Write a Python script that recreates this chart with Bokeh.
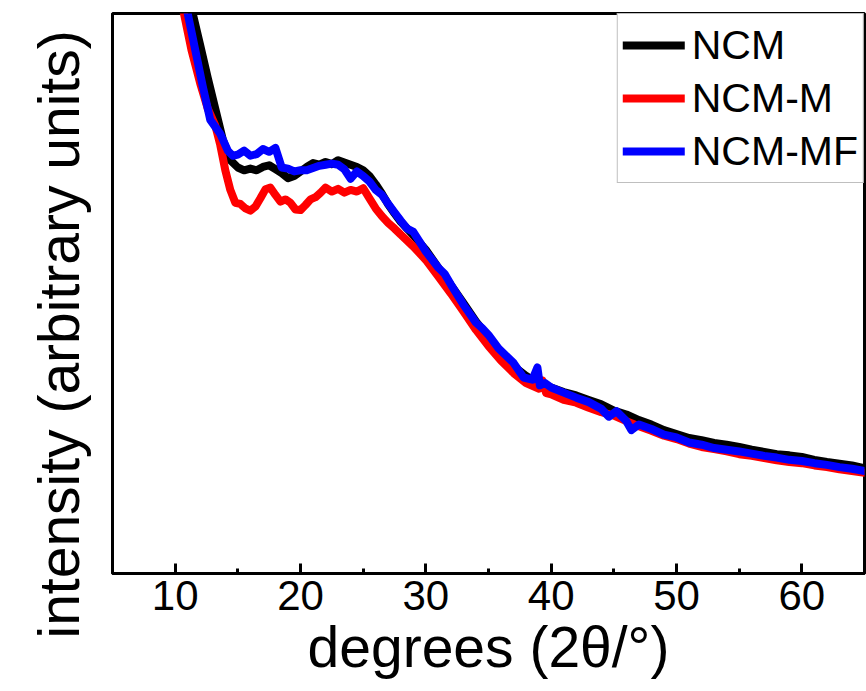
from bokeh.plotting import figure
from bokeh.models import Range1d, Legend, LegendItem, FixedTicker, Title
from bokeh.embed import file_html
from bokeh.resources import INLINE

# ---- data (arbitrary intensity units 0-100) ----
x_ncm = [10.8, 11.4, 12.0, 12.6, 13.2, 13.8, 14.4, 15.0, 15.5, 16.0, 16.5, 17.0, 17.5, 18.0,
         18.5, 19.0, 19.5, 20.0, 20.5, 21.0, 21.5, 22.0, 22.5, 23.0, 23.5, 24.0, 24.5, 25.0,
         25.5, 26.0, 26.5, 27.0, 27.5, 28.0, 29.0, 30.0, 31.0, 32.0, 33.0, 34.0, 35.0, 36.0,
         37.0, 38.0, 38.5, 39.0, 39.5, 40.0, 41.0, 42.0, 43.0, 44.0, 45.0, 46.0, 47.0, 48.0,
         49.0, 50.0, 51.0, 52.0, 53.0, 54.0, 55.0, 56.0, 57.0, 58.0, 59.0, 60.0, 61.0, 62.0,
         63.0, 64.0, 65.0]
y_ncm = [104.0, 100.0, 94.3, 88.5, 83.0, 77.5, 73.8, 72.5, 72.0, 72.3, 72.0, 72.6, 72.9, 72.2,
         71.5, 70.6, 71.0, 71.8, 72.6, 73.3, 73.0, 73.5, 73.1, 73.8, 73.4, 73.0, 72.6, 72.0,
         71.0, 69.5, 67.8, 65.9, 64.3, 62.8, 60.4, 57.8, 54.6, 51.5, 48.3, 45.0, 42.2, 39.2,
         37.0, 35.3, 34.6, 34.2, 33.6, 33.2, 32.4, 31.8, 31.0, 30.2, 29.1, 28.4, 27.4, 26.6,
         25.6, 24.9, 24.2, 23.8, 23.3, 23.0, 22.6, 22.1, 21.7, 21.3, 21.1, 20.8, 20.3, 19.9,
         19.6, 19.3, 18.8]

x_ncm_m = [10.3, 10.7, 11.3, 12.0, 12.6, 13.2, 13.6, 14.0, 14.4, 14.8, 15.2, 15.6, 16.0, 16.4,
           16.8, 17.2, 17.6, 18.0, 18.4, 18.8, 19.2, 19.6, 20.0, 20.4, 20.8, 21.2, 21.6, 22.0,
           22.5, 23.0, 23.5, 24.0, 24.5, 25.0, 25.5, 26.0, 26.5, 27.0, 27.5, 28.0, 29.0, 30.0,
           31.0, 32.0, 33.0, 34.0, 35.0, 36.0, 37.0, 38.0, 39.0, 39.3, 39.6, 40.0, 41.0, 42.0,
           43.0, 44.0, 45.0, 46.0, 47.0, 48.0, 49.0, 50.0, 51.0, 52.0, 53.0, 54.0, 55.0, 56.0,
           57.0, 58.0, 59.0, 60.0, 61.0, 62.0, 63.0, 64.0, 65.0]
y_ncm_m = [105.0, 100.0, 93.5, 87.5, 83.0, 80.0, 76.5, 72.0, 68.5, 66.2, 66.0, 65.2, 64.8, 65.5,
           67.0, 68.6, 68.9, 67.6, 66.4, 66.8, 66.2, 65.0, 64.9, 65.8, 66.8, 67.2, 68.0, 68.9,
           68.2, 68.7, 68.0, 68.5, 68.2, 68.8, 67.0, 65.2, 63.8, 62.6, 61.6, 60.5, 58.4, 56.0,
           53.0, 50.0, 46.8, 43.5, 40.6, 38.0, 35.8, 34.0, 33.0, 34.5, 32.2, 32.0, 31.0, 30.5,
           29.6, 28.8, 28.2, 27.2, 26.3, 25.5, 24.6, 24.0, 23.2, 22.6, 22.2, 21.8, 21.3, 21.0,
           20.6, 20.2, 19.9, 19.7, 19.3, 19.0, 18.6, 18.3, 18.0]

x_ncm_mf = [10.5, 11.0, 11.6, 12.2, 12.8, 13.6, 14.2, 14.6, 15.0, 15.5, 16.0, 16.5, 17.0, 17.5,
            18.0, 18.5, 19.0, 19.5, 20.0, 20.5, 21.0, 21.5, 22.0, 22.5, 23.0, 23.5, 24.0, 24.5,
            25.0, 25.5, 26.0, 26.5, 27.0, 27.5, 28.0, 28.5, 29.0, 30.0, 31.0, 31.5, 32.0, 33.0,
            34.0, 34.5, 35.0, 35.8, 37.0, 37.8, 38.5, 38.9, 39.1, 39.5, 40.0, 41.0, 42.0, 43.0,
            44.0, 44.6, 45.2, 46.0, 46.4, 47.0, 48.0, 49.0, 50.0, 51.0, 52.0, 53.0, 54.0, 55.0,
            56.0, 57.0, 58.0, 59.0, 60.0, 61.0, 62.0, 63.0, 64.0, 65.0]
y_ncm_mf = [105.0, 100.0, 93.5, 87.0, 81.0, 78.5, 75.5, 74.6, 74.8, 75.5, 74.6, 74.9, 75.8, 75.3,
            76.0, 72.5, 72.3, 71.8, 72.0, 72.0, 72.4, 72.8, 73.0, 73.2, 73.0, 72.2, 70.5, 71.8,
            71.0, 70.0, 68.5, 67.6, 66.0, 64.5, 63.0, 61.6, 61.0, 57.5, 54.6, 53.5, 51.6, 48.0,
            44.8, 43.8, 42.6, 40.2, 37.6, 35.0, 34.6, 36.8, 33.6, 34.0, 33.2, 32.3, 31.4, 30.6,
            29.4, 28.0, 29.0, 27.2, 25.6, 26.6, 25.8, 24.8, 24.3, 23.4, 23.0, 22.4, 22.1, 21.8,
            21.4, 21.0, 20.7, 20.3, 20.1, 19.7, 19.4, 19.0, 18.7, 18.3]

series_names = ["NCM", "NCM-M", "NCM-MF"]
series_colors = ["#000000", "#ff0000", "#0000ff"]
x_ticks = [10, 20, 30, 40, 50, 60]
x_minor = [15, 25, 35, 45, 55, 65]
x_title = "degrees (2θ/°)"
y_title = "intensity (arbitrary units)"

FONT = "Liberation Sans"

p = figure(width=866, height=691, output_backend="svg", toolbar_location=None,
           x_range=Range1d(5, 65), y_range=Range1d(0, 100),
           min_border_left=112, min_border_right=2, min_border_top=13, min_border_bottom=118,
           background_fill_color="white", border_fill_color="white")

p.xgrid.visible = False
p.ygrid.visible = False
p.outline_line_color = "black"
p.outline_line_width = 3
p.outline_line_alpha = 1

renderers = []
for xs, ys, c in [(x_ncm, y_ncm, series_colors[0]),
                  (x_ncm_m, y_ncm_m, series_colors[1]),
                  (x_ncm_mf, y_ncm_mf, series_colors[2])]:
    r = p.line(xs, ys, line_color=c, line_width=8, line_join="round", line_cap="round")
    renderers.append(r)

# x axis
xa = p.xaxis[0]
xa.ticker = FixedTicker(ticks=x_ticks, minor_ticks=x_minor)
xa.axis_line_width = 3
xa.major_tick_in = 10
xa.major_tick_out = 0
xa.minor_tick_in = 5
xa.minor_tick_out = 0
xa.major_tick_line_width = 3
xa.minor_tick_line_width = 3
xa.major_label_text_font = FONT
xa.major_label_text_font_size = "42px"
xa.major_label_text_color = "black"
xa.major_label_standoff = 7
xa.axis_label = x_title
xa.axis_label_text_font = FONT
xa.axis_label_text_font_size = "57px"
xa.axis_label_text_font_style = "normal"
xa.axis_label_text_color = "black"
xa.axis_label_standoff = 2

# y axis (no ticks, no labels)
ya = p.yaxis[0]
ya.ticker = FixedTicker(ticks=[])
ya.axis_line_width = 3
ya.major_tick_line_color = None
ya.minor_tick_line_color = None

ytitle = Title(text=y_title, align="left", offset=-65, standoff=44,
               text_font=FONT, text_font_size="57px", text_font_style="normal",
               text_color="black")
p.add_layout(ytitle, "left")

legend = Legend(items=[LegendItem(label=n, renderers=[r]) for n, r in zip(series_names, renderers)],
                location="top_right")
legend.margin = 0
legend.padding = 5
legend.spacing = 1
legend.glyph_width = 62
legend.glyph_height = 52
legend.label_standoff = 7
legend.label_text_font = FONT
legend.label_text_font_size = "41px"
legend.label_text_color = "black"
legend.border_line_color = "#808080"
legend.border_line_width = 1
legend.background_fill_color = "white"
legend.background_fill_alpha = 1
p.add_layout(legend)

open("out.html", "w").write(file_html(p, INLINE))
